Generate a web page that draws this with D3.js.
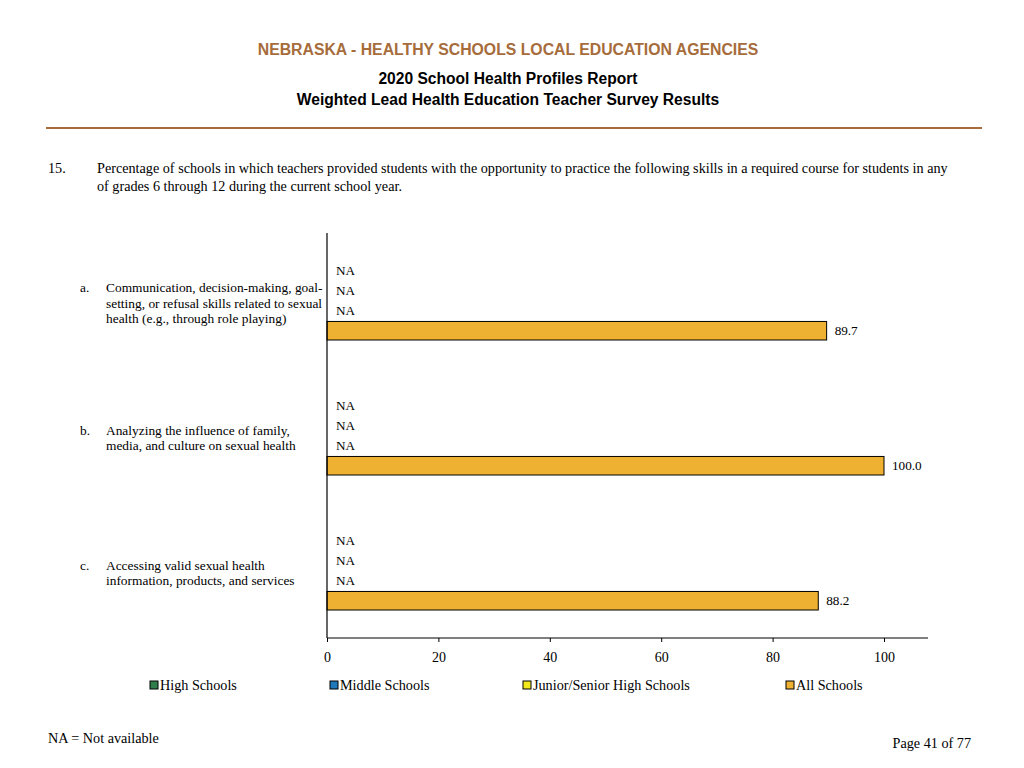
<!doctype html>
<html>
<head>
  <meta charset="utf-8">
  <script src="https://cdnjs.cloudflare.com/ajax/libs/d3/7.8.5/d3.min.js"></script>
  <style>
    body { margin: 0; background: #fff; }
    svg { display: block; }
  </style>
</head>
<body>
<svg id="chart" width="1024" height="768"></svg>
<script>
  // data
  var categories = ["a", "b", "c"];
  var categoryLabels = [
    ["Communication, decision-making, goal-", "setting, or refusal skills related to sexual", "health (e.g., through role playing)"],
    ["Analyzing the influence of family,", "media, and culture on sexual health"],
    ["Accessing valid sexual health", "information, products, and services"]
  ];
  var seriesNames = ["High Schools", "Middle Schools", "Junior/Senior High Schools", "All Schools"];
  var seriesColors = ["#2f7d4a", "#1f78b9", "#f2e81a", "#efb132"];
  var highSchools = [null, null, null];
  var middleSchools = [null, null, null];
  var juniorSeniorHigh = [null, null, null];
  var allSchools = [89.7, 100.0, 88.2];
  var xTicks = [0, 20, 40, 60, 80, 100];

  var seriesValues = [highSchools, middleSchools, juniorSeniorHigh, allSchools];
  var brown = "#a66c3b";

  var svg = d3.select("#chart");

  // header
  svg.append("text").attr("x", 508).attr("y", 55).attr("text-anchor", "middle")
    .attr("font-family", "Liberation Sans, Arial").attr("font-weight", "bold")
    .attr("font-size", 15.8).attr("fill", brown)
    .text("NEBRASKA - HEALTHY SCHOOLS LOCAL EDUCATION AGENCIES");
  svg.append("text").attr("x", 508).attr("y", 84).attr("text-anchor", "middle")
    .attr("font-family", "Liberation Sans, Arial").attr("font-weight", "bold")
    .attr("font-size", 15.6).attr("fill", "#000")
    .text("2020 School Health Profiles Report");
  svg.append("text").attr("x", 508).attr("y", 105).attr("text-anchor", "middle")
    .attr("font-family", "Liberation Sans, Arial").attr("font-weight", "bold")
    .attr("font-size", 15.6).attr("fill", "#000")
    .text("Weighted Lead Health Education Teacher Survey Results");
  svg.append("line").attr("x1", 46).attr("x2", 982).attr("y1", 128).attr("y2", 128)
    .attr("stroke", brown).attr("stroke-width", 2);

  // question
  var serif = "Liberation Serif, Times New Roman";
  svg.append("text").attr("x", 48).attr("y", 173).attr("font-family", serif)
    .attr("font-size", 14.2).text("15.");
  svg.append("text").attr("x", 97).attr("y", 173).attr("font-family", serif)
    .attr("font-size", 14.2)
    .text("Percentage of schools in which teachers provided students with the opportunity to practice the following skills in a required course for students in any");
  svg.append("text").attr("x", 97).attr("y", 191).attr("font-family", serif)
    .attr("font-size", 14.2)
    .text("of grades 6 through 12 during the current school year.");

  // scales
  var x = d3.scaleLinear().domain([0, 100]).range([327, 884]);
  var y = d3.scaleBand().domain(categories).range([233, 638]);
  var inner = d3.scaleBand().domain(seriesNames).range([-39.5, 39.5]).paddingInner(0.08);

  var g = svg.append("g");

  categories.forEach(function(c, i) {
    var cy = y(c) + y.bandwidth() / 2;
    seriesNames.forEach(function(s, j) {
      var v = seriesValues[j][i];
      var by = cy + inner(s);
      var bh = inner.bandwidth();
      if (v == null) {
        g.append("text").attr("x", x(0) + 9).attr("y", by + bh / 2 + 4.5)
          .attr("font-family", serif).attr("font-size", 13.2).text("NA");
      } else {
        g.append("rect").attr("x", x(0)).attr("y", by)
          .attr("width", x(v) - x(0)).attr("height", bh)
          .attr("fill", seriesColors[j]).attr("stroke", "#000").attr("stroke-width", 1);
        g.append("text").attr("x", x(v) + 8).attr("y", by + bh / 2 + 4.5)
          .attr("font-family", serif).attr("font-size", 13.2).text(v.toFixed(1));
      }
    });
    // category label
    var lines = categoryLabels[i];
    var top = cy + 7 - (lines.length - 1) * 15.5 / 2;
    g.append("text").attr("x", 80).attr("y", top).attr("font-family", serif)
      .attr("font-size", 13.4).text(c + ".");
    lines.forEach(function(t, k) {
      g.append("text").attr("x", 106).attr("y", top + k * 15.5).attr("font-family", serif)
        .attr("font-size", 13.4).text(t);
    });
  });

  // axes
  svg.append("line").attr("x1", x(0)).attr("x2", x(0)).attr("y1", 233).attr("y2", 638)
    .attr("stroke", "#000").attr("stroke-width", 1.2);
  var xAxis = svg.append("g").attr("transform", "translate(0,638)")
    .call(d3.axisBottom(x).tickValues(xTicks).tickSize(4).tickPadding(10).tickFormat(d3.format("d")));
  xAxis.select(".domain").remove();
  xAxis.append("line").attr("x1", x(0)).attr("x2", 928).attr("stroke", "#000").attr("stroke-width", 1.2);
  xAxis.selectAll("text").attr("font-family", serif).attr("font-size", 14).attr("fill", "#000");

  // legend
  var legendX = [150, 330, 523, 786];
  seriesNames.forEach(function(s, j) {
    svg.append("rect").attr("x", legendX[j]).attr("y", 681).attr("width", 8).attr("height", 8)
      .attr("fill", seriesColors[j]).attr("stroke", "#000").attr("stroke-width", 1);
    svg.append("text").attr("x", legendX[j] + 10).attr("y", 690).attr("font-family", serif)
      .attr("font-size", 14.2).text(s);
  });

  // footer
  svg.append("text").attr("x", 48).attr("y", 743).attr("font-family", serif)
    .attr("font-size", 14.2).text("NA = Not available");
  svg.append("text").attr("x", 971).attr("y", 748).attr("text-anchor", "end")
    .attr("font-family", serif).attr("font-size", 14.2).text("Page 41 of 77");
</script>
</body>
</html>
